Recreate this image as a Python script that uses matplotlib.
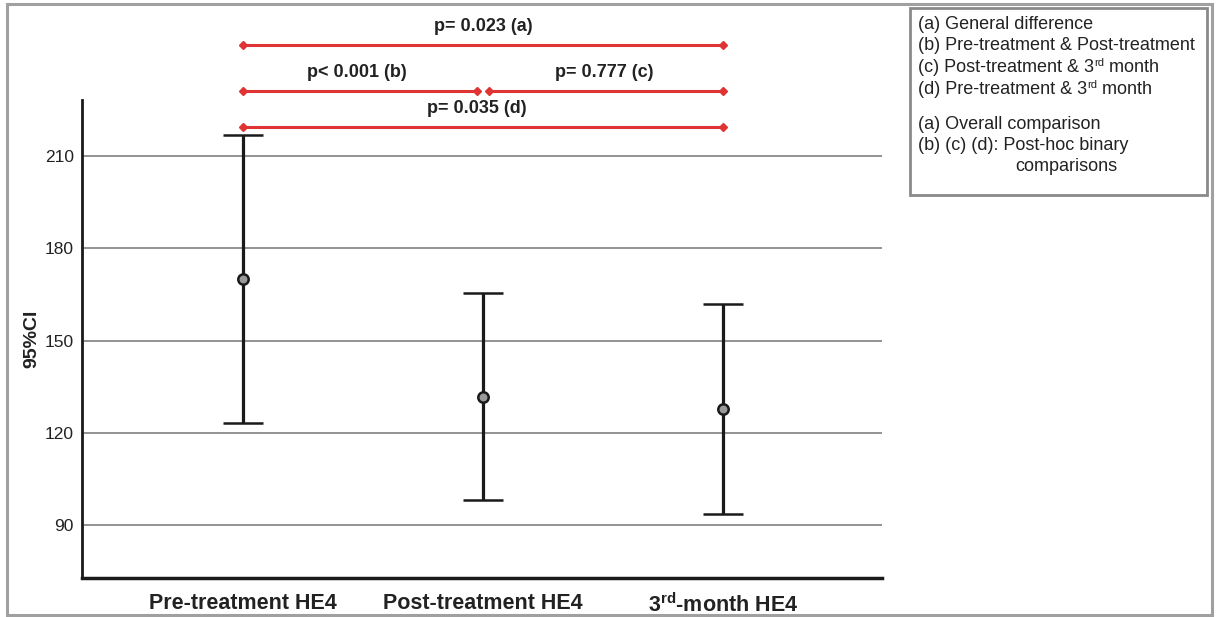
import matplotlib
matplotlib.use("Agg")
from matplotlib import pyplot as plt
from matplotlib.patches import Rectangle

plt.rcParams['font.family'] = ['Liberation Sans', 'DejaVu Sans']
plt.rcParams['mathtext.fontset'] = 'custom'
plt.rcParams['mathtext.rm'] = 'Liberation Sans'
plt.rcParams['mathtext.bf'] = 'Liberation Sans:bold'

groups = ["Pre-treatment HE4", "Post-treatment HE4", "3$^{\\mathbf{rd}}$-month HE4"]
means = [170.0, 131.8, 127.6]
upper = [216.8, 165.4, 161.8]
lower = [123.3, 98.1, 93.6]
yticks = [90, 120, 150, 180, 210]

# significance brackets: (start group, end group, y level, label, label x, label y)
brackets = [
    (0, 2, 246.1, "p= 0.023 (a)", 1.0, 252.0),
    (0, 0.975, 231.1, "p< 0.001 (b)", 0.475, 237.0),
    (1.025, 2, 231.1, "p= 0.777 (c)", 1.505, 237.0),
    (0, 2, 219.4, "p= 0.035 (d)", 0.975, 225.3),
]

# "^" marks a superscript piece
legend_lines = [
    ["(a) General difference"],
    ["(b) Pre-treatment & Post-treatment"],
    ["(c) Post-treatment & 3", "^rd", " month"],
    ["(d) Pre-treatment & 3", "^rd", " month"],
]
note_lines = [
    "(a) Overall comparison",
    "(b) (c) (d): Post-hoc binary",
]

fig = plt.figure(figsize=(12.16, 6.17), dpi=100)
W, H = 1216, 617
ax = fig.add_axes([82 / W, 1 - 578 / H, 800 / W, 478 / H])

xs = list(range(len(groups)))
yerr = [[m - lo for m, lo in zip(means, lower)], [u - m for m, u in zip(means, upper)]]
ax.errorbar(xs, means, yerr=yerr, fmt='o', color='#1a1a1a', ecolor='#1a1a1a',
            elinewidth=2.3, capsize=14.5, capthick=2.3, markersize=7.5,
            mfc='#9a9a9a', mec='#1a1a1a', mew=1.8, zorder=3)

ax.set_xlim(-0.67, 2.66)
ax.set_ylim(72.8, 228.2)
ax.set_yticks(yticks)
ax.yaxis.grid(True, color='#8a8a8a', lw=1.3)
ax.set_axisbelow(True)
ax.tick_params(axis='both', length=0)
ax.tick_params(axis='y', labelsize=12.5, labelcolor='#222222', pad=6)
ax.set_xticks(xs)
ax.set_xticklabels(groups, fontsize=15.5, fontweight='bold', color='#222222')
ax.tick_params(axis='x', pad=11)
ax.set_ylabel("95%CI", fontsize=14, fontweight='bold', color='#222222', labelpad=3)

for s in ['top', 'right']:
    ax.spines[s].set_visible(False)
ax.spines['left'].set_linewidth(2.0)
ax.spines['bottom'].set_linewidth(2.5)
ax.spines['left'].set_color('#1a1a1a')
ax.spines['bottom'].set_color('#1a1a1a')

red = '#e03434'
for x0, x1, yv, lab, lx, ly in brackets:
    ax.plot([x0, x1], [yv, yv], color=red, lw=2.2, marker='D', markersize=4.5,
            clip_on=False, zorder=4)
    ax.text(lx, ly, lab, ha='center', va='center', fontsize=13, fontweight='bold',
            color='#222222', clip_on=False)

# outer frame and note box
fig.patches.append(Rectangle((7 / W, 2 / H), 1205 / W, 611 / H, transform=fig.transFigure,
                             fill=False, ec='#a0a0a0', lw=2.2))
fig.patches.append(Rectangle((910 / W, 1 - 195 / H), 297 / W, 187 / H, transform=fig.transFigure,
                             fill=False, ec='#8a8a8a', lw=2.0))

renderer = fig.canvas.get_renderer()
for i, parts in enumerate(legend_lines):
    xpix = 918
    ybase = 1 - (29 + 21.5 * i) / H
    for p in parts:
        if p.startswith("^"):
            t = fig.text(xpix / W, ybase + 6 / H, p[1:], ha='left', va='baseline',
                         fontsize=8, color='#222222')
        else:
            t = fig.text(xpix / W, ybase, p, ha='left', va='baseline',
                         fontsize=13, color='#222222')
        xpix = t.get_window_extent(renderer).x1
for i, t in enumerate(note_lines):
    fig.text(918 / W, 1 - (129 + 21 * i) / H, t, ha='left', va='baseline',
             fontsize=13, color='#222222')
fig.text(1066 / W, 1 - 171 / H, "comparisons", ha='center', va='baseline',
         fontsize=13, color='#222222')

fig.savefig("out.png", dpi=100)
